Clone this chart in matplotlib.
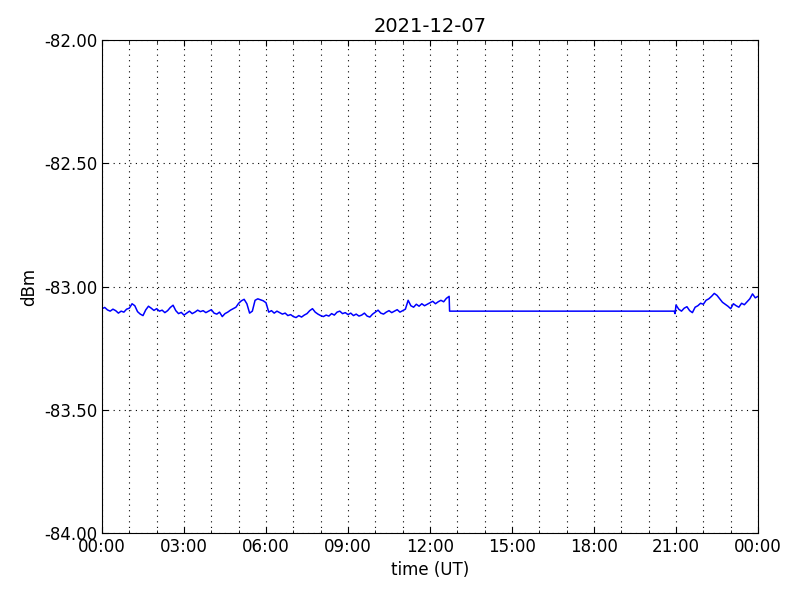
import matplotlib
matplotlib.use("Agg")

import numpy as np
import matplotlib.pyplot as plt
from matplotlib.ticker import MultipleLocator, FuncFormatter


# =========================
# DATA (minutes since 00:00 UT, dBm)
# =========================

DAY = "2021-12-07"

# morning block, one sample every 6 min, 00:00 .. 12:42
morning_dbm = [
    -83.090, -83.085, -83.095, -83.100, -83.092, -83.098, -83.108, -83.100, -83.104, -83.092,
    -83.088, -83.070, -83.078, -83.102, -83.112, -83.118, -83.095, -83.080, -83.088, -83.097,
    -83.090, -83.100, -83.096, -83.106, -83.098, -83.085, -83.076, -83.098, -83.110, -83.105,
    -83.116, -83.108, -83.100, -83.110, -83.104, -83.096, -83.102, -83.098, -83.106, -83.100,
    -83.094, -83.108, -83.112, -83.104, -83.122, -83.110, -83.104, -83.096, -83.090, -83.084,
    -83.068, -83.058, -83.052, -83.070, -83.108, -83.100, -83.056, -83.050, -83.054, -83.058,
    -83.066, -83.104, -83.098, -83.108, -83.100, -83.106, -83.112, -83.108, -83.118, -83.114,
    -83.122, -83.126, -83.118, -83.124, -83.116, -83.110, -83.098, -83.090, -83.104, -83.112,
    -83.118, -83.122, -83.116, -83.120, -83.110, -83.116, -83.104, -83.100, -83.110, -83.106,
    -83.114, -83.108, -83.118, -83.112, -83.120, -83.116, -83.108, -83.120, -83.124, -83.112,
    -83.104, -83.096, -83.108, -83.112, -83.104, -83.098, -83.106, -83.100, -83.094, -83.104,
    -83.098, -83.092, -83.056, -83.078, -83.084, -83.072, -83.080, -83.070, -83.078, -83.072,
    -83.066, -83.060, -83.070, -83.062, -83.056, -83.062, -83.048, -83.040,
]
morning_min = np.arange(len(morning_dbm)) * 6

# flat fill while no data (12:43 .. 20:58)
gap_min = [763, 1256, 1258]
gap_dbm = [-83.100, -83.100, -83.110]

# evening block, one sample every 6 min, 21:00 .. 24:00
evening_dbm = [
    -83.075, -83.092, -83.100, -83.088, -83.082, -83.098, -83.106, -83.084, -83.078, -83.068,
    -83.072, -83.056, -83.050, -83.040, -83.028, -83.036, -83.050, -83.064, -83.072, -83.080,
    -83.090, -83.070, -83.078, -83.084, -83.068, -83.074, -83.062, -83.050, -83.030, -83.046,
    -83.040,
]
evening_min = 1260 + np.arange(len(evening_dbm)) * 6

minutes = np.concatenate([morning_min, gap_min, evening_min])
dbm = np.concatenate([morning_dbm, gap_dbm, evening_dbm])
hours = minutes / 60.0


# =========================
# PLOT
# =========================

fig = plt.figure(figsize=(8, 6), dpi=100)
ax = fig.add_axes([0.1275, 0.1117, 0.82, 0.8216])

ax.plot(hours, dbm, color="blue", linewidth=1.1)

ax.set_xlim(0, 24)
ax.set_ylim(-84, -82)

ax.xaxis.set_major_locator(MultipleLocator(3))
ax.xaxis.set_minor_locator(MultipleLocator(1))
ax.xaxis.set_major_formatter(FuncFormatter(lambda h, pos: f"{int(round(h)) % 24:02d}:00"))
ax.yaxis.set_major_locator(MultipleLocator(0.5))
ax.yaxis.set_major_formatter(FuncFormatter(lambda v, pos: f"{v:.2f}"))

ax.tick_params(which="both", direction="in", top=True, right=True, labelsize=12)
ax.tick_params(which="major", length=4)
ax.tick_params(which="minor", length=2)

grid_style = dict(color="black", linestyle=(0, (1, 4)), linewidth=0.8)
ax.grid(True, which="major", **grid_style)
ax.grid(True, which="minor", axis="x", **grid_style)

ax.set_title(DAY, fontsize=14)
ax.set_xlabel("time (UT)", fontsize=12)
ax.set_ylabel("dBm", fontsize=12)

plt.savefig("out.png")
plt.close()
